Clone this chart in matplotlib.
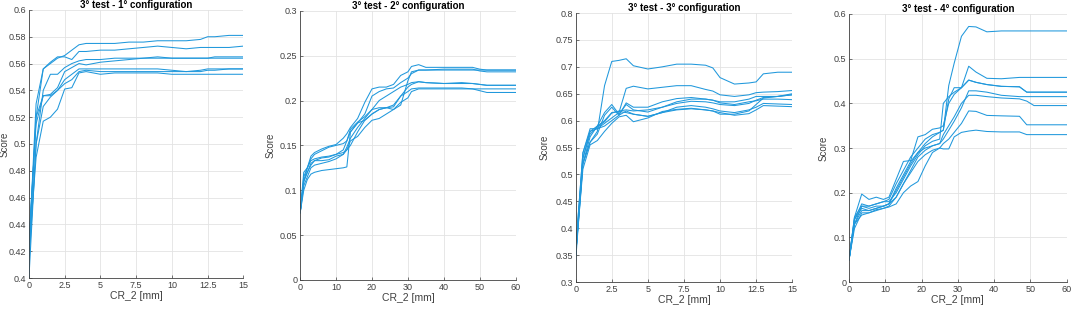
import numpy as np
import matplotlib.pyplot as plt

plt.rcParams['font.family'] = ['Liberation Sans', 'DejaVu Sans']

# panel 1: CR_2 0..15 mm
x1 = [0, 0.5, 1, 1.5, 2, 2.5, 3, 3.5, 4, 5, 6, 7, 8, 9, 10, 11, 12, 12.5, 13, 14, 15]
y1 = [
    [0.42, 0.52, 0.556, 0.560, 0.564, 0.566, 0.570, 0.574, 0.575, 0.575, 0.575, 0.576, 0.576, 0.577, 0.577, 0.577, 0.578, 0.580, 0.580, 0.581, 0.581],
    [0.42, 0.53, 0.556, 0.561, 0.565, 0.565, 0.563, 0.569, 0.569, 0.570, 0.570, 0.571, 0.572, 0.573, 0.572, 0.571, 0.572, 0.572, 0.572, 0.572, 0.573],
    [0.41, 0.50, 0.540, 0.552, 0.552, 0.557, 0.560, 0.562, 0.563, 0.563, 0.564, 0.564, 0.564, 0.564, 0.564, 0.564, 0.564, 0.564, 0.564, 0.564, 0.564],
    [0.43, 0.515, 0.536, 0.537, 0.542, 0.554, 0.557, 0.560, 0.559, 0.561, 0.562, 0.563, 0.564, 0.565, 0.564, 0.564, 0.564, 0.564, 0.565, 0.565, 0.565],
    [0.42, 0.52, 0.536, 0.536, 0.540, 0.548, 0.552, 0.556, 0.556, 0.556, 0.556, 0.556, 0.556, 0.556, 0.555, 0.554, 0.555, 0.556, 0.556, 0.556, 0.556],
    [0.40, 0.50, 0.528, 0.535, 0.540, 0.545, 0.548, 0.554, 0.555, 0.554, 0.554, 0.554, 0.554, 0.554, 0.554, 0.554, 0.554, 0.555, 0.555, 0.556, 0.556],
    [0.42, 0.49, 0.517, 0.520, 0.526, 0.541, 0.542, 0.553, 0.554, 0.552, 0.553, 0.553, 0.553, 0.553, 0.552, 0.552, 0.552, 0.552, 0.552, 0.552, 0.552],
]

# panel 2: CR_2 0..60 mm
x2 = [0, 1, 2, 3, 4, 6, 8, 10, 12, 13, 14, 16, 18, 20, 22, 24, 26, 28, 30, 31, 33, 35, 40, 45, 48, 50, 52, 55, 60]
y2 = [
    [0.075, 0.110, 0.125, 0.138, 0.142, 0.146, 0.149, 0.151, 0.158, 0.163, 0.170, 0.180, 0.198, 0.213, 0.215, 0.215, 0.218, 0.228, 0.232, 0.238, 0.240, 0.237, 0.237, 0.237, 0.237, 0.235, 0.234, 0.234, 0.234],
    [0.075, 0.115, 0.125, 0.135, 0.140, 0.144, 0.148, 0.150, 0.152, 0.155, 0.165, 0.175, 0.185, 0.205, 0.210, 0.213, 0.214, 0.220, 0.225, 0.230, 0.234, 0.234, 0.235, 0.235, 0.235, 0.233, 0.232, 0.232, 0.232],
    [0.075, 0.120, 0.125, 0.133, 0.135, 0.137, 0.138, 0.140, 0.145, 0.155, 0.168, 0.176, 0.182, 0.190, 0.200, 0.205, 0.210, 0.215, 0.218, 0.220, 0.221, 0.220, 0.219, 0.219, 0.219, 0.218, 0.217, 0.217, 0.217],
    [0.075, 0.110, 0.120, 0.130, 0.133, 0.133, 0.134, 0.138, 0.140, 0.148, 0.158, 0.170, 0.180, 0.190, 0.192, 0.192, 0.195, 0.205, 0.215, 0.218, 0.221, 0.220, 0.219, 0.220, 0.219, 0.218, 0.217, 0.217, 0.217],
    [0.075, 0.105, 0.115, 0.125, 0.128, 0.130, 0.132, 0.135, 0.140, 0.145, 0.150, 0.165, 0.178, 0.185, 0.190, 0.192, 0.190, 0.198, 0.203, 0.210, 0.213, 0.213, 0.213, 0.213, 0.213, 0.213, 0.213, 0.213, 0.213],
    [0.075, 0.100, 0.112, 0.118, 0.120, 0.122, 0.123, 0.124, 0.125, 0.126, 0.165, 0.175, 0.178, 0.185, 0.190, 0.192, 0.193, 0.205, 0.210, 0.213, 0.214, 0.214, 0.214, 0.214, 0.213, 0.211, 0.209, 0.209, 0.209],
    [0.075, 0.110, 0.120, 0.128, 0.133, 0.136, 0.137, 0.140, 0.142, 0.145, 0.155, 0.160, 0.170, 0.178, 0.180, 0.185, 0.190, 0.195, 0.222, 0.232, 0.234, 0.234, 0.234, 0.234, 0.234, 0.234, 0.234, 0.234, 0.234],
]

# panel 3: CR_2 0..15 mm
x3 = [0, 0.5, 1, 1.5, 2, 2.5, 3, 3.5, 4, 5, 6, 7, 8, 9, 9.5, 10, 11, 12, 12.5, 13, 14, 15]
y3 = [
    [0.35, 0.52, 0.56, 0.58, 0.665, 0.710, 0.712, 0.715, 0.702, 0.696, 0.700, 0.705, 0.705, 0.703, 0.698, 0.680, 0.668, 0.670, 0.672, 0.687, 0.690, 0.690],
    [0.35, 0.53, 0.58, 0.585, 0.595, 0.605, 0.615, 0.660, 0.664, 0.659, 0.662, 0.665, 0.665, 0.658, 0.655, 0.648, 0.645, 0.648, 0.652, 0.653, 0.654, 0.656],
    [0.36, 0.54, 0.585, 0.585, 0.590, 0.600, 0.610, 0.633, 0.625, 0.625, 0.635, 0.641, 0.643, 0.640, 0.638, 0.635, 0.635, 0.640, 0.645, 0.645, 0.645, 0.648],
    [0.34, 0.52, 0.57, 0.590, 0.615, 0.630, 0.612, 0.630, 0.620, 0.616, 0.625, 0.635, 0.640, 0.640, 0.638, 0.633, 0.630, 0.635, 0.637, 0.640, 0.640, 0.639],
    [0.35, 0.52, 0.56, 0.575, 0.610, 0.625, 0.610, 0.618, 0.612, 0.608, 0.615, 0.625, 0.628, 0.625, 0.622, 0.618, 0.615, 0.620, 0.625, 0.632, 0.631, 0.630],
    [0.35, 0.51, 0.555, 0.563, 0.580, 0.595, 0.607, 0.610, 0.598, 0.605, 0.617, 0.621, 0.623, 0.620, 0.618, 0.615, 0.610, 0.613, 0.620, 0.628, 0.627, 0.626],
    [0.36, 0.54, 0.58, 0.590, 0.600, 0.615, 0.617, 0.615, 0.612, 0.608, 0.615, 0.620, 0.622, 0.620, 0.618, 0.612, 0.612, 0.618, 0.630, 0.642, 0.645, 0.648],
    [0.35, 0.53, 0.575, 0.588, 0.598, 0.614, 0.618, 0.620, 0.618, 0.620, 0.625, 0.632, 0.636, 0.635, 0.633, 0.630, 0.628, 0.632, 0.638, 0.643, 0.645, 0.650],
]

# panel 4: CR_2 0..60 mm
x4 = [0, 1.5, 3.5, 5.5, 7.5, 9.5, 11, 13, 15, 17, 19, 21, 23, 25, 26, 27.5, 29, 31, 33, 35, 38, 42, 47, 49, 51, 55, 60]
y4 = [
    [0.05, 0.140, 0.165, 0.160, 0.165, 0.170, 0.175, 0.210, 0.240, 0.270, 0.290, 0.310, 0.325, 0.335, 0.340, 0.440, 0.490, 0.550, 0.572, 0.571, 0.560, 0.562, 0.562, 0.562, 0.562, 0.562, 0.562],
    [0.05, 0.130, 0.170, 0.170, 0.175, 0.180, 0.185, 0.220, 0.250, 0.280, 0.300, 0.320, 0.330, 0.335, 0.340, 0.410, 0.435, 0.435, 0.483, 0.470, 0.456, 0.455, 0.458, 0.458, 0.458, 0.458, 0.458],
    [0.05, 0.140, 0.175, 0.170, 0.175, 0.180, 0.180, 0.200, 0.230, 0.260, 0.285, 0.305, 0.315, 0.320, 0.400, 0.415, 0.425, 0.435, 0.452, 0.447, 0.442, 0.438, 0.437, 0.425, 0.425, 0.425, 0.425],
    [0.05, 0.145, 0.170, 0.165, 0.170, 0.170, 0.175, 0.205, 0.235, 0.265, 0.290, 0.300, 0.305, 0.310, 0.320, 0.340, 0.360, 0.390, 0.428, 0.428, 0.425, 0.418, 0.415, 0.415, 0.415, 0.415, 0.415],
    [0.05, 0.130, 0.160, 0.160, 0.165, 0.170, 0.175, 0.190, 0.220, 0.250, 0.280, 0.295, 0.305, 0.310, 0.330, 0.350, 0.370, 0.400, 0.418, 0.418, 0.415, 0.412, 0.410, 0.405, 0.395, 0.395, 0.395],
    [0.05, 0.120, 0.155, 0.155, 0.162, 0.165, 0.170, 0.190, 0.220, 0.245, 0.270, 0.285, 0.295, 0.300, 0.310, 0.320, 0.335, 0.355, 0.383, 0.382, 0.373, 0.372, 0.371, 0.352, 0.352, 0.352, 0.352],
    [0.05, 0.130, 0.150, 0.155, 0.160, 0.165, 0.168, 0.175, 0.200, 0.215, 0.225, 0.260, 0.290, 0.300, 0.298, 0.298, 0.325, 0.335, 0.338, 0.340, 0.337, 0.336, 0.336, 0.330, 0.330, 0.330, 0.330],
    [0.05, 0.145, 0.197, 0.185, 0.190, 0.185, 0.190, 0.230, 0.270, 0.272, 0.325, 0.330, 0.342, 0.345, 0.350, 0.400, 0.420, 0.435, 0.452, 0.447, 0.442, 0.438, 0.437, 0.425, 0.425, 0.425, 0.425],
]

titles = ['3° test - 1° configuration', '3° test - 2° configuration',
          '3° test - 3° configuration', '3° test - 4° configuration']

panels = [
    (x1, y1, (0, 15), np.arange(0, 15.1, 2.5), (0.4, 0.6), np.arange(0.4, 0.601, 0.02)),
    (x2, y2, (0, 60), np.arange(0, 61, 10), (0, 0.3), np.arange(0, 0.301, 0.05)),
    (x3, y3, (0, 15), np.arange(0, 15.1, 2.5), (0.3, 0.8), np.arange(0.3, 0.801, 0.05)),
    (x4, y4, (0, 60), np.arange(0, 61, 10), (0, 0.6), np.arange(0, 0.601, 0.1)),
]

# axes rectangles in figure fractions [left, bottom, width, height]
rects = [
    [0.027, 0.103, 0.200, 0.865],
    [0.280, 0.097, 0.201, 0.868],
    [0.537, 0.090, 0.202, 0.868],
    [0.792, 0.090, 0.203, 0.865],
]
# y label x-offset (axes fraction, right edge of rotated text)
ylab_x = [-0.09, -0.114, -0.119, -0.095]

line_color = '#2098dc'
fig = plt.figure(figsize=(10.72, 3.10), dpi=100)

for (x, ys, xl, xt, yl, yt), r, t, lx in zip(panels, rects, titles, ylab_x):
    ax = fig.add_axes(r)
    for y in ys:
        ax.plot(x, y, color=line_color, lw=0.75)
    ax.set_xlim(xl)
    ax.set_ylim(yl)
    ax.set_xticks(xt)
    ax.set_yticks(yt)
    ax.set_xticklabels(['%g' % v for v in xt])
    ax.set_yticklabels(['%g' % round(v, 3) for v in yt])
    ax.grid(True, color='#e3e3e3', lw=0.6)
    ax.set_axisbelow(True)
    for s in ['top', 'right']:
        ax.spines[s].set_visible(False)
    for s in ['left', 'bottom']:
        ax.spines[s].set_color('#404040')
        ax.spines[s].set_linewidth(0.6)
    ax.tick_params(direction='in', length=2, width=0.5, labelsize=6.5, colors='#404040', pad=2)
    ax.set_title(t, fontsize=7, fontweight='bold', pad=1.5)
    ax.set_xlabel('CR_2 [mm]', fontsize=7.5, color='#404040', labelpad=1)
    ax.set_ylabel('Score', fontsize=7, color='#404040')
    ax.yaxis.set_label_coords(lx, 0.5)

fig.savefig('out.png', dpi=100)
